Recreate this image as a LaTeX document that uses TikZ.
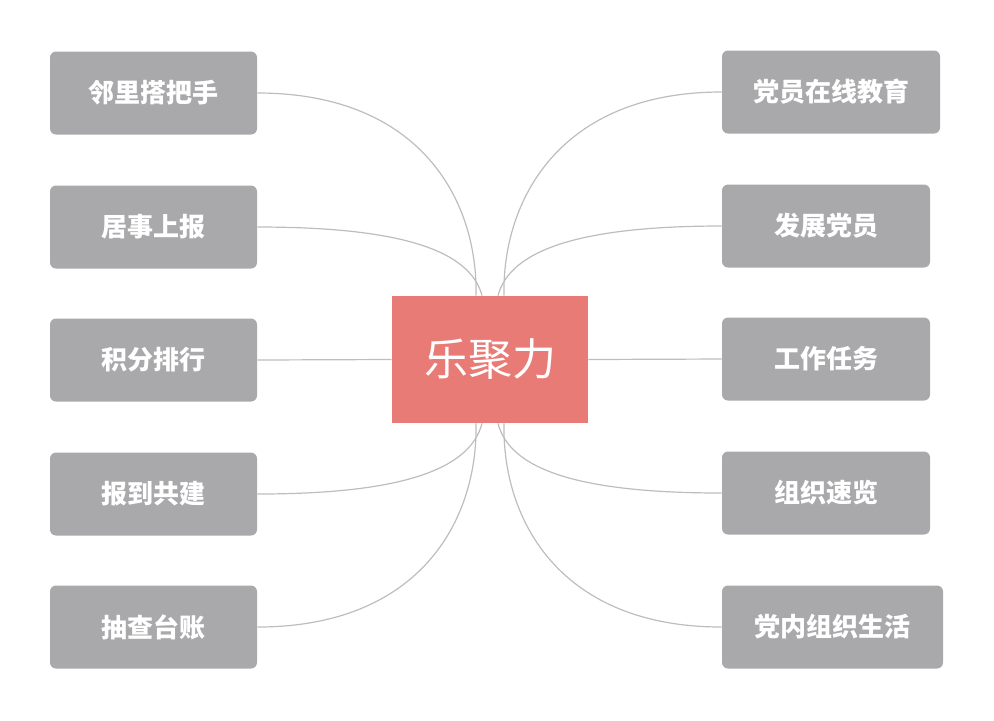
\documentclass[tikz,border=0pt]{standalone}
\usepackage{fontspec}
\newfontfamily\cjk{Noto Sans CJK SC}
\usetikzlibrary{positioning}
\definecolor{itemgray}{HTML}{A9A8AA}
\definecolor{hubred}{HTML}{E97B76}
\definecolor{linkgray}{HTML}{BDBDBD}
\begin{document}
\begin{tikzpicture}[x=0.5pt,y=-0.5pt]
	  \tikzset{item/.style={fill=itemgray, rectangle, rounded corners=3pt, text=white, font=\cjk\bfseries\fontsize{13}{13}\selectfont, minimum height=41.5pt, inner xsep=0pt},
	  	hub/.style={fill=hubred, rectangle, text=white, font=\cjk\fontsize{22}{22}\selectfont, minimum width=98pt, minimum height=63.5pt},
	  	link/.style={draw=linkgray, line width=0.6pt}
	  }
	  \useasboundingbox (0,0) rectangle (994,720);
	  \node [hub] (hub) at (490,359.5) {乐聚力};
	  %% left column
	  \node [item, minimum width=103.5pt] (l1) at (153.5,93) {邻里搭把手};
	  \node [item, minimum width=103.5pt] (l2) at (153.5,227) {居事上报};
	  \node [item, minimum width=103.5pt] (l3) at (153.5,360) {积分排行};
	  \node [item, minimum width=103.5pt] (l4) at (153.5,494) {报到共建};
	  \node [item, minimum width=103.5pt] (l5) at (153.5,627) {抽查台账};
	  %% right column
	  \node [item, minimum width=109pt] (r1) at (831,92) {党员在线教育};
	  \node [item, minimum width=104pt] (r2) at (826,226) {发展党员};
	  \node [item, minimum width=104pt] (r3) at (826,359) {工作任务};
	  \node [item, minimum width=104pt] (r4) at (826,493) {组织速览};
	  \node [item, minimum width=110.5pt] (r5) at (832.5,627) {党内组织生活};
	  
	  %% paths
	  \draw[link] (l1.east) .. controls (420,93) and (478,200) .. ([xshift=-7pt]hub.north);
	  \draw[link] (l2.east) .. controls (400,227) and (470,250) .. ([xshift=-4pt]hub.north);
	  \draw[link] (l3.east) -- (hub.west);
	  \draw[link] (l4.east) .. controls (400,494) and (470,470) .. ([xshift=-4pt]hub.south);
	  \draw[link] (l5.east) .. controls (420,627) and (478,520) .. ([xshift=-7pt]hub.south);
	  \draw[link] (r1.west) .. controls (560,92) and (502,200) .. ([xshift=7pt]hub.north);
	  \draw[link] (r2.west) .. controls (580,226) and (510,250) .. ([xshift=4pt]hub.north);
	  \draw[link] (r3.west) -- (hub.east);
	  \draw[link] (r4.west) .. controls (580,493) and (510,470) .. ([xshift=4pt]hub.south);
	  \draw[link] (r5.west) .. controls (560,627) and (502,520) .. ([xshift=7pt]hub.south);
\end{tikzpicture}
\end{document}
